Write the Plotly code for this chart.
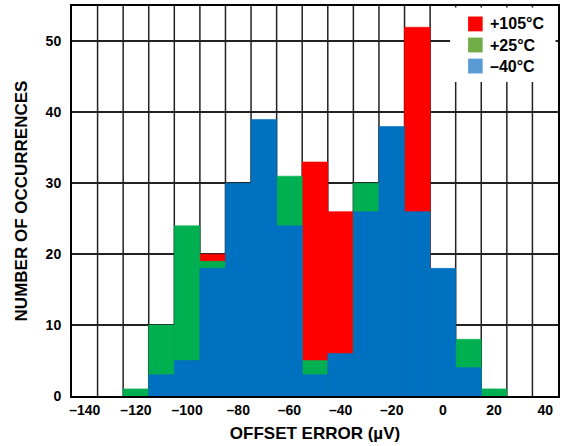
import plotly.graph_objects as go

# bin centres (uV), one bin every 10 uV
red_x = [-90, -50, -40, -10]
red_y = [20, 33, 26, 52]

green_x = [-120, -110, -100, -90, -60, -50, -30, 10, 20]
green_y = [1, 10, 24, 19, 31, 5, 30, 8, 1]

blue_x = [-110, -100, -90, -80, -70, -60, -50, -40, -30, -20, -10, 0, 10]
blue_y = [3, 5, 18, 30, 39, 24, 3, 6, 26, 38, 26, 18, 4]

x_ticks = [-140, -120, -100, -80, -60, -40, -20, 0, 20, 40]
x_labels = ["–140", "–120", "–100", "–80", "–60", "–40", "–20", "0", "20", "40"]
legend_names = ["+105°C", "+25°C", "–40°C"]
legend_colors = ["#FF0000", "#70AD47", "#5B9BD5"]

font = dict(family="Liberation Sans, Arial", size=14, color="black", weight="bold")

fig = go.Figure()
# overlaid histograms: hottest at the back, coldest in front
for xs, ys, col in [(red_x, red_y, "#FF0000"), (green_x, green_y, "#00B050"), (blue_x, blue_y, "#0070C0")]:
    fig.add_trace(go.Bar(x=xs, y=ys, width=10, marker=dict(color=col, line=dict(width=0.6, color=col)),
                         showlegend=False))

fig.update_layout(
    width=564, height=446,
    margin=dict(l=72, r=6, t=6, b=50),
    barmode="overlay",
    plot_bgcolor="white", paper_bgcolor="white",
    font=font,
    showlegend=False,
)
fig.update_xaxes(range=[-145, 45], tickvals=x_ticks, ticktext=x_labels,
                 showgrid=False, zeroline=False, automargin=False,
                 showline=True, linecolor="black", linewidth=2, mirror=True,
                 title=dict(text="OFFSET ERROR (µV)", standoff=10))
fig.update_yaxes(range=[0, 55], tickvals=[0, 10, 20, 30, 40, 50],
                 showgrid=True, gridcolor="#222222", gridwidth=1.5, zeroline=False,
                 showline=True, linecolor="black", linewidth=2, mirror=True,
                 ticks="", ticklen=0, automargin=False, ticklabelstandoff=6,
                 title=dict(text="NUMBER OF OCCURRENCES", standoff=14))

# vertical grid lines sit on bin edges (every 10 uV, offset by 5)
for gx in range(-135, 45, 10):
    fig.add_shape(type="line", x0=gx, x1=gx, y0=0, y1=55, xref="x", yref="y",
                  line=dict(color="#222222", width=1.5), layer="below")

# hand-made legend box (white, hides the grid behind it)
fig.add_shape(type="rect", xref="paper", yref="paper", x0=0.778, x1=0.995, y0=0.805, y1=0.996,
              fillcolor="white", line=dict(width=0), layer="above")
for i, (name, col) in enumerate(zip(legend_names, legend_colors)):
    yc = 0.954 - i * 0.054
    fig.add_shape(type="rect", xref="paper", yref="paper", x0=0.815, x1=0.845,
                  y0=yc - 0.019, y1=yc + 0.019, fillcolor=col, line=dict(width=0), layer="above")
    fig.add_annotation(xref="paper", yref="paper", x=0.856, y=yc, text=name, showarrow=False,
                       xanchor="left", yanchor="middle", font=dict(size=16))

# page body has a default 8px margin; drop it so the figure fills the window
fig.write_html("out.html", config={"displayModeBar": False},
               post_script="document.body.style.margin='0';")
